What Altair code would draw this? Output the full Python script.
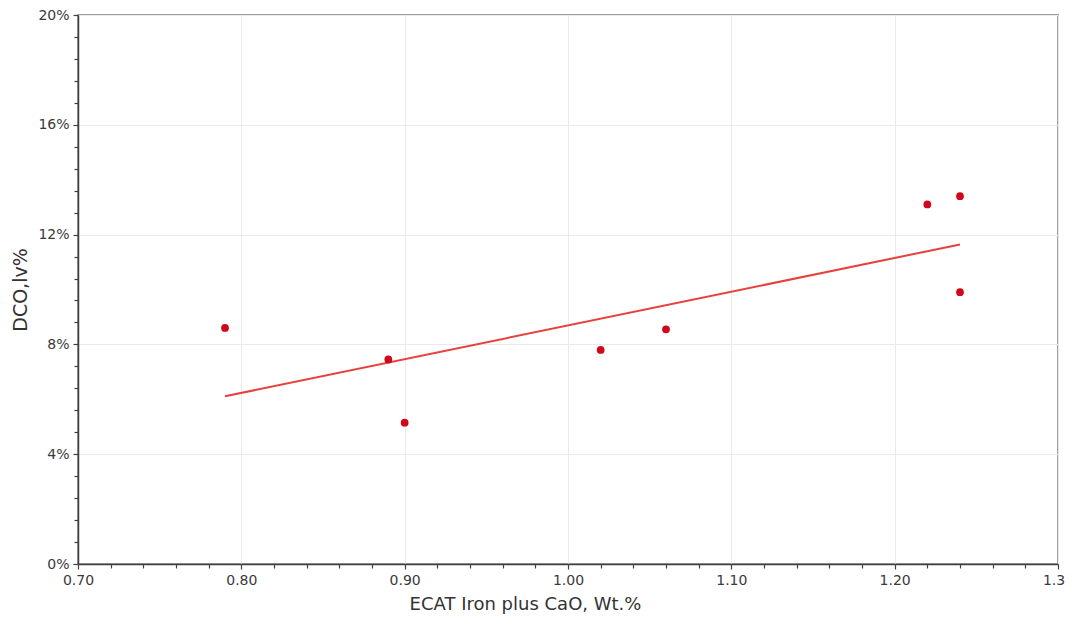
import altair as alt
import pandas as pd

# Data
ecat_iron_cao = [0.79, 0.89, 0.90, 1.02, 1.06, 1.22, 1.24, 1.24]
dco_lv_pct = [8.6, 7.45, 5.15, 7.8, 8.55, 13.1, 13.4, 9.9]

# Tick positions (major + minor)
x_ticks = [0.70, 0.72, 0.74, 0.76, 0.78, 0.80, 0.82, 0.84, 0.86, 0.88,
           0.90, 0.92, 0.94, 0.96, 0.98, 1.00, 1.02, 1.04, 1.06, 1.08,
           1.10, 1.12, 1.14, 1.16, 1.18, 1.20, 1.22, 1.24, 1.26, 1.28, 1.30]
y_ticks = [0, 0.8, 1.6, 2.4, 3.2, 4, 4.8, 5.6, 6.4, 7.2, 8, 8.8, 9.6, 10.4,
           11.2, 12, 12.8, 13.6, 14.4, 15.2, 16, 16.8, 17.6, 18.4, 19.2, 20]

df = pd.DataFrame({"x": ecat_iron_cao, "y": dco_lv_pct})

FONT = "DejaVu Sans"
x_major = "abs(datum.value*10 - round(datum.value*10)) < 0.0001"
y_major = "abs(datum.value/4 - round(datum.value/4)) < 0.0001"

x_enc = alt.X(
    "x:Q",
    scale=alt.Scale(domain=[0.70, 1.30], nice=False, zero=False),
    axis=alt.Axis(
        title="ECAT Iron plus CaO, Wt.%",
        values=x_ticks,
        labelExpr=f"({x_major}) ? format(datum.value, '.2f') : ''",
        tickSize={"condition": {"test": x_major, "value": 5}, "value": 4},
        gridOpacity={"condition": {"test": x_major, "value": 1}, "value": 0},
        gridColor="#eaeaea",
        domainColor="#404040",
        domainWidth=1.5,
        tickColor="#404040",
        tickWidth=1.2,
        labelFont=FONT,
        labelFontSize=14,
        labelColor="#3a3a3a",
        labelPadding=4,
        titleFont=FONT,
        titleFontSize=18,
        titleFontWeight="normal",
        titleColor="#333333",
        titleX=447,
        titleY=31,
        titleBaseline="top",
        labelFlush=False,
        labelOverlap=False,
    ),
)

y_enc = alt.Y(
    "y:Q",
    scale=alt.Scale(domain=[0, 20], nice=False),
    axis=alt.Axis(
        title="DCO,lv%",
        values=y_ticks,
        labelExpr=f"({y_major}) ? datum.value + '%' : ''",
        tickSize={"condition": {"test": y_major, "value": 5}, "value": 4},
        gridOpacity={"condition": {"test": y_major, "value": 1}, "value": 0},
        gridColor="#eaeaea",
        domainColor="#404040",
        domainWidth=1.5,
        tickColor="#404040",
        tickWidth=1.2,
        labelFont=FONT,
        labelFontSize=14,
        labelColor="#3a3a3a",
        labelPadding=4,
        titleFont=FONT,
        titleFontSize=19,
        titleFontWeight="normal",
        titleColor="#333333",
        titleX=-48,
        labelFlush=False,
        labelOverlap=False,
    ),
)

base = alt.Chart(df).encode(x=x_enc, y=y_enc)

points = base.mark_point(
    shape="circle", filled=True, size=60, color="#d0061b", opacity=1
)

trend = base.transform_regression("x", "y").mark_line(
    color="#e8403c", strokeWidth=2
)

chart = alt.layer(trend, points).properties(
    width=980,
    height=549,
    autosize=alt.AutoSizeParams(type="none"),
    padding={"left": 70, "top": 7, "right": 7, "bottom": 50},
    background="white",
).configure_view(stroke="#a0a0a0", strokeWidth=2).configure_axis(
    labelOverlap=False
)

chart.save("out.html", embed_options={"renderer": "svg", "actions": False})
